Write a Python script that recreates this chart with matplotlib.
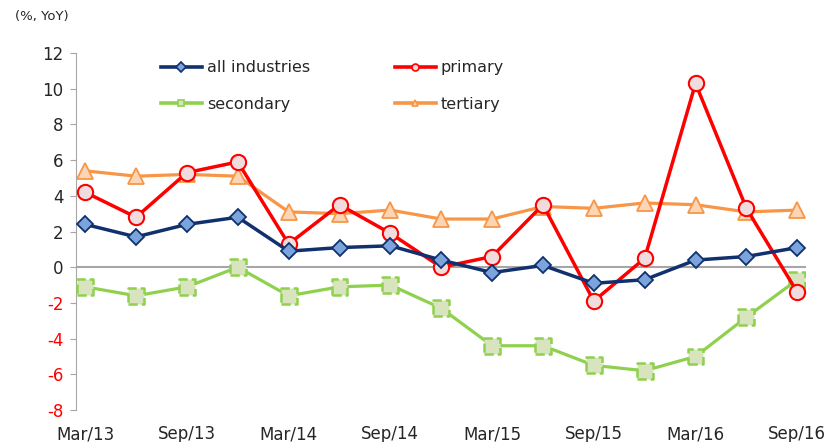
import matplotlib.pyplot as plt
import numpy as np

quarters = ["Mar/13", "Jun/13", "Sep/13", "Dec/13", "Mar/14", "Jun/14", "Sep/14", "Dec/14",
            "Mar/15", "Jun/15", "Sep/15", "Dec/15", "Mar/16", "Jun/16", "Sep/16"]
all_industries = [2.4, 1.7, 2.4, 2.8, 0.9, 1.1, 1.2, 0.4, -0.3, 0.1, -0.9, -0.7, 0.4, 0.6, 1.1]
primary = [4.2, 2.8, 5.3, 5.9, 1.3, 3.5, 1.9, 0.0, 0.6, 3.5, -1.9, 0.5, 10.3, 3.3, -1.4]
secondary = [-1.1, -1.6, -1.1, 0.0, -1.6, -1.1, -1.0, -2.3, -4.4, -4.4, -5.5, -5.8, -5.0, -2.8, -0.7]
tertiary = [5.4, 5.1, 5.2, 5.1, 3.1, 3.0, 3.2, 2.7, 2.7, 3.4, 3.3, 3.6, 3.5, 3.1, 3.2]

yticks = list(range(-8, 13, 2))

fig = plt.figure(figsize=(8.3, 4.42), dpi=100)
ax = fig.add_axes([0.0916, 0.0724, 0.88, 0.8076])
x = np.arange(len(quarters))

h_all, = ax.plot(x, all_industries, color="#10306e", lw=2.5, marker="D", ms=8.5,
                 mfc="#7ba4dc", mec="#10306e", mew=1.3, zorder=5, label="all industries")
h_pri, = ax.plot(x, primary, color="#ff0000", lw=2.5, marker="o", ms=11,
                 mfc="#f0dcdc", mec="#ff0000", mew=1.5, zorder=4, label="primary")
h_sec, = ax.plot(x, secondary, color="#8fd14f", lw=2.3, zorder=3, label="secondary")
ax.scatter(x, secondary, marker="s", s=130, facecolor="#d8e4bd", edgecolor="#8fd14f",
           linewidths=1.8, linestyles="--", zorder=3.5)
h_ter, = ax.plot(x, tertiary, color="#f79646", lw=2.3, marker="^", ms=11,
                 mfc="#fcd5b4", mec="#f79646", mew=1.3, zorder=2, label="tertiary")

ax.axhline(0, color="#a6a6a6", lw=1.5, zorder=1)

ax.set_xlim(-0.18, len(quarters) - 1 + 0.18)
ax.set_ylim(-8, 12)
ax.set_yticks(yticks)
ax.set_yticklabels([str(v) for v in yticks], fontsize=12)
for lab, v in zip(ax.get_yticklabels(), yticks):
    lab.set_color("#ff0000" if v < 0 else "#262626")
ax.tick_params(axis="y", length=4, color="#a6a6a6", pad=5)

ax.set_xticks(x[::2])
ax.set_xticklabels(quarters[::2], fontsize=12, color="#262626")
ax.tick_params(axis="x", length=0, pad=11)

for s in ["top", "right", "bottom"]:
    ax.spines[s].set_visible(False)
ax.spines["left"].set_color("#a6a6a6")

# legend handles with small markers, like the reference
leg_handles = []
for h in [h_all, h_sec, h_pri, h_ter]:
    is_sec = h is h_sec
    lh, = ax.plot([], [], color=h.get_color(), lw=2.6, marker="s" if is_sec else h.get_marker(),
                  ms=5, mfc="#d8e4bd" if is_sec else h.get_mfc(),
                  mec="#8fd14f" if is_sec else h.get_mec(), mew=1.2, label=h.get_label())
    leg_handles.append(lh)
leg = ax.legend(handles=leg_handles, ncol=2, loc="upper left", bbox_to_anchor=(0.096, 1.02),
                frameon=False, fontsize=11.5, handlelength=2.6, handletextpad=0.3,
                columnspacing=5.3, labelspacing=1.35)
for t in leg.get_texts():
    t.set_color("#262626")

fig.text(0.018, 0.962, "(%, YoY)", fontsize=9.5, color="#262626", va="center")

fig.savefig("out.png", dpi=100)
